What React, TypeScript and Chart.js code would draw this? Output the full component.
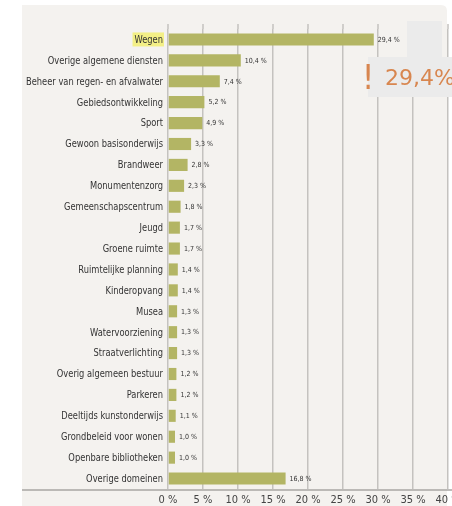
import React, { useEffect, useRef } from "react";
import { Chart, registerables } from "chart.js";

Chart.register(...registerables);

const categories: string[] = [
  "Wegen",
  "Overige algemene diensten",
  "Beheer van regen- en afvalwater",
  "Gebiedsontwikkeling",
  "Sport",
  "Gewoon basisonderwijs",
  "Brandweer",
  "Monumentenzorg",
  "Gemeenschapscentrum",
  "Jeugd",
  "Groene ruimte",
  "Ruimtelijke planning",
  "Kinderopvang",
  "Musea",
  "Watervoorziening",
  "Straatverlichting",
  "Overig algemeen bestuur",
  "Parkeren",
  "Deeltijds kunstonderwijs",
  "Grondbeleid voor wonen",
  "Openbare bibliotheken",
  "Overige domeinen",
];

const values: number[] = [
  29.4, 10.4, 7.4, 5.2, 4.9, 3.3, 2.8, 2.3, 1.8, 1.7, 1.7, 1.4, 1.4, 1.3, 1.3,
  1.3, 1.2, 1.2, 1.1, 1.0, 1.0, 16.8,
];

const xTicks: number[] = [0, 5, 10, 15, 20, 25, 30, 35, 40];
const highlightLabel = "Wegen";
const calloutText = "29,4%";

const fmt = (v: number) => v.toFixed(1).replace(".", ",") + " %";

const FONT = "'DejaVu Sans Condensed', sans-serif";
const LABEL_SCALE = 0.84;

const decorPlugin = {
  id: "decor",
  beforeDraw(chart: any) {
    const ctx = chart.ctx;
    ctx.save();
    ctx.fillStyle = "#f4f2ef";
    const x0 = 22, y0 = 5, x1 = 447, y1 = 520, r = 6;
    ctx.beginPath();
    ctx.moveTo(x0, y0);
    ctx.lineTo(x1 - r, y0);
    ctx.quadraticCurveTo(x1, y0, x1, y0 + r);
    ctx.lineTo(x1, y1);
    ctx.lineTo(x0, y1);
    ctx.closePath();
    ctx.fill();
    const xs = chart.scales.x;
    ctx.strokeStyle = "#c4c2bf";
    ctx.lineWidth = 1.5;
    for (const t of xTicks) {
      const px = xs.getPixelForValue(t);
      ctx.beginPath();
      ctx.moveTo(px, 24);
      ctx.lineTo(px, chart.chartArea.top);
      ctx.stroke();
    }
    ctx.restore();
  },
  afterDraw(chart: any) {
    const ctx = chart.ctx;
    const xs = chart.scales.x;
    const ys = chart.scales.y;
    const right = chart.chartArea.left - 5;
    ctx.save();
    ctx.font = "11px " + FONT;
    ctx.textBaseline = "middle";
    ctx.textAlign = "right";
    categories.forEach((c, i) => {
      const py = ys.getPixelForValue(i);
      if (c === highlightLabel) {
        const w = ctx.measureText(c).width * LABEL_SCALE;
        ctx.fillStyle = "#f3ef86";
        ctx.fillRect(right - w - 2, py - 7, w + 3, 14);
      }
      ctx.save();
      ctx.translate(right, py);
      ctx.scale(LABEL_SCALE, 1);
      ctx.fillStyle = "#333";
      ctx.fillText(c, 0, 0.5);
      ctx.restore();
    });
    ctx.strokeStyle = "#a8a6a3";
    ctx.lineWidth = 1.5;
    ctx.beginPath();
    ctx.moveTo(22, chart.chartArea.bottom + 1);
    ctx.lineTo(452, chart.chartArea.bottom + 1);
    ctx.stroke();
    ctx.fillStyle = "#333";
    ctx.font = "7px " + FONT;
    ctx.textAlign = "left";
    values.forEach((v, i) => {
      const px = xs.getPixelForValue(v);
      const py = ys.getPixelForValue(i);
      ctx.fillText(fmt(v), px + 4, py + 0.5);
    });
    ctx.fillStyle = "#ebebeb";
    ctx.fillRect(407, 21, 35, 36);
    ctx.fillRect(368, 57, 90, 40);
    ctx.fillStyle = "#d8864f";
    ctx.textBaseline = "alphabetic";
    ctx.font = "34px 'DejaVu Sans Condensed', sans-serif";
    ctx.fillText("!", 362, 89);
    ctx.font = "22px 'DejaVu Sans', sans-serif";
    ctx.fillText(calloutText, 385, 85);
    ctx.restore();
  },
};

export default function App() {
  const ref = useRef<HTMLCanvasElement | null>(null);
  useEffect(() => {
    if (!ref.current) return;
    const chart = new Chart(ref.current, {
      type: "bar",
      data: {
        labels: categories,
        datasets: [
          {
            data: values,
            backgroundColor: "#b3b564",
            barPercentage: 0.58,
            categoryPercentage: 1,
          },
        ],
      },
      options: {
        indexAxis: "y",
        animation: false,
        responsive: false,
        maintainAspectRatio: false,
        layout: { padding: { top: 29, left: 0, right: 22, bottom: 0 } },
        plugins: { legend: { display: false }, tooltip: { enabled: false } },
        scales: {
          x: {
            min: 0,
            max: 40,
            position: "bottom",
            afterFit: (s: any) => {
              s.height = 17;
            },
            afterBuildTicks: (s: any) => {
              s.ticks = xTicks.map((v) => ({ value: v }));
            },
            ticks: {
              callback: (v: any) => v + " %",
              font: { family: FONT, size: 11 },
              color: "#444",
              padding: 5,
              maxRotation: 0,
              autoSkip: false,
            },
            grid: {
              color: "#c4c2bf",
              lineWidth: 1.5,
              drawTicks: false,
            },
            border: { display: false },
          },
          y: {
            afterFit: (s: any) => {
              s.width = 168;
            },
            ticks: {
              display: false,
              autoSkip: false,
            },
            grid: { display: false, drawTicks: false },
            border: { display: false },
          },
        },
      },
      plugins: [decorPlugin],
    });
    return () => chart.destroy();
  }, []);
  return (
    <div
      style={{
        position: "fixed",
        left: 0,
        top: 0,
        width: 452,
        height: 506,
        overflow: "hidden",
        background: "#fff",
      }}
    >
      <canvas ref={ref} width={470} height={506} style={{ display: "block" }} />
    </div>
  );
}
